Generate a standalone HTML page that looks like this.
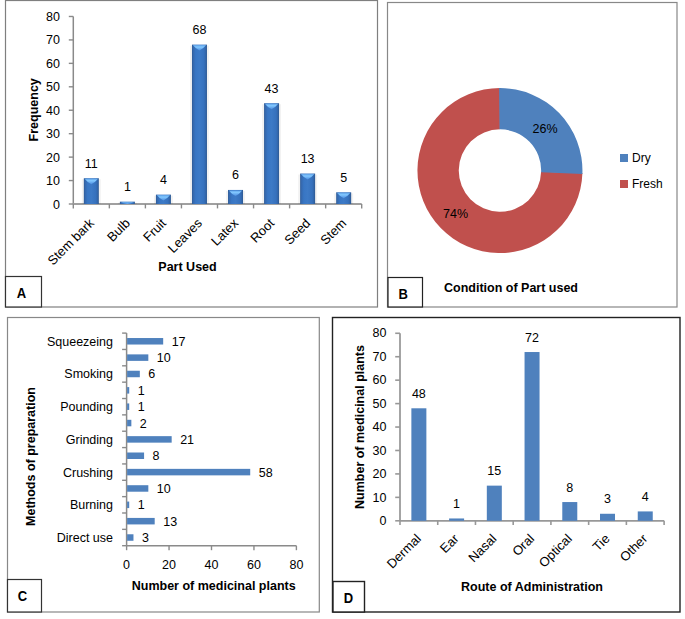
<!DOCTYPE html>
<html><head><meta charset="utf-8"><style>
html,body{margin:0;padding:0;background:#fff;}
body{width:685px;height:619px;overflow:hidden;}
svg{display:block;}
text{font-family:"Liberation Sans",sans-serif;fill:#000;}
</style></head><body>
<svg width="685" height="619" viewBox="0 0 685 619">
<defs>
<linearGradient id="barA" x1="0" y1="0" x2="1" y2="0">
<stop offset="0" stop-color="#2e5a94"/><stop offset="0.08" stop-color="#3568ad"/><stop offset="0.25" stop-color="#3876c4"/><stop offset="0.5" stop-color="#3d7ac6"/><stop offset="0.8" stop-color="#3671bd"/><stop offset="0.92" stop-color="#3265a8"/><stop offset="1" stop-color="#2d5890"/>
</linearGradient>
<linearGradient id="bevA" x1="0" y1="0" x2="0" y2="1">
<stop offset="0" stop-color="#5c9fe6"/><stop offset="0.35" stop-color="#82c8ff"/><stop offset="1" stop-color="#4e8ee0"/>
</linearGradient>
</defs>
<rect x="5.50" y="0.50" width="372.00" height="306.50" fill="none" stroke="#7f7f7f" stroke-width="1.2" />
<line x1="73.30" y1="16.47" x2="73.30" y2="204.00" stroke="#8a8a8a" stroke-width="1.5"/>
<line x1="68.80" y1="204.00" x2="73.30" y2="204.00" stroke="#8a8a8a" stroke-width="1.4"/>
<text x="60.00" y="208.50" font-size="12.5" text-anchor="end" >0</text>
<line x1="68.80" y1="180.56" x2="73.30" y2="180.56" stroke="#8a8a8a" stroke-width="1.4"/>
<text x="60.00" y="185.06" font-size="12.5" text-anchor="end" >10</text>
<line x1="68.80" y1="157.12" x2="73.30" y2="157.12" stroke="#8a8a8a" stroke-width="1.4"/>
<text x="60.00" y="161.62" font-size="12.5" text-anchor="end" >20</text>
<line x1="68.80" y1="133.68" x2="73.30" y2="133.68" stroke="#8a8a8a" stroke-width="1.4"/>
<text x="60.00" y="138.18" font-size="12.5" text-anchor="end" >30</text>
<line x1="68.80" y1="110.24" x2="73.30" y2="110.24" stroke="#8a8a8a" stroke-width="1.4"/>
<text x="60.00" y="114.74" font-size="12.5" text-anchor="end" >40</text>
<line x1="68.80" y1="86.80" x2="73.30" y2="86.80" stroke="#8a8a8a" stroke-width="1.4"/>
<text x="60.00" y="91.30" font-size="12.5" text-anchor="end" >50</text>
<line x1="68.80" y1="63.36" x2="73.30" y2="63.36" stroke="#8a8a8a" stroke-width="1.4"/>
<text x="60.00" y="67.86" font-size="12.5" text-anchor="end" >60</text>
<line x1="68.80" y1="39.92" x2="73.30" y2="39.92" stroke="#8a8a8a" stroke-width="1.4"/>
<text x="60.00" y="44.42" font-size="12.5" text-anchor="end" >70</text>
<line x1="68.80" y1="16.48" x2="73.30" y2="16.48" stroke="#8a8a8a" stroke-width="1.4"/>
<text x="60.00" y="20.98" font-size="12.5" text-anchor="end" >80</text>
<line x1="73.30" y1="204.00" x2="361.70" y2="204.00" stroke="#a0a0a0" stroke-width="1.8"/>
<line x1="73.30" y1="204.00" x2="73.30" y2="208.40" stroke="#8a8a8a" stroke-width="1.4"/>
<line x1="109.35" y1="204.00" x2="109.35" y2="208.40" stroke="#8a8a8a" stroke-width="1.4"/>
<line x1="145.40" y1="204.00" x2="145.40" y2="208.40" stroke="#8a8a8a" stroke-width="1.4"/>
<line x1="181.45" y1="204.00" x2="181.45" y2="208.40" stroke="#8a8a8a" stroke-width="1.4"/>
<line x1="217.50" y1="204.00" x2="217.50" y2="208.40" stroke="#8a8a8a" stroke-width="1.4"/>
<line x1="253.55" y1="204.00" x2="253.55" y2="208.40" stroke="#8a8a8a" stroke-width="1.4"/>
<line x1="289.60" y1="204.00" x2="289.60" y2="208.40" stroke="#8a8a8a" stroke-width="1.4"/>
<line x1="325.65" y1="204.00" x2="325.65" y2="208.40" stroke="#8a8a8a" stroke-width="1.4"/>
<line x1="361.70" y1="204.00" x2="361.70" y2="208.40" stroke="#8a8a8a" stroke-width="1.4"/>
<rect x="81.82" y="179.22" width="19" height="24.78" fill="#000" fill-opacity="0.05"/>
<rect x="83.82" y="178.22" width="15" height="25.78" fill="url(#barA)"/>
<path d="M84.62,178.72 L98.02,178.72 Q94.82,182.72 91.32,184.22 Q87.82,182.72 84.62,178.72 Z" fill="url(#bevA)"/>
<text x="91.32" y="167.72" font-size="12.5" text-anchor="middle" >11</text>
<text x="94.82" y="224.00" font-size="13" text-anchor="end" transform="rotate(-45 94.82 224)">Stem bark</text>
<rect x="117.88" y="202.66" width="19" height="1.34" fill="#000" fill-opacity="0.05"/>
<rect x="119.88" y="201.66" width="15" height="2.34" fill="url(#barA)"/>
<path d="M120.67,202.16 L134.07,202.16 Q130.88,203.41 127.38,204.00 Q123.88,203.41 120.67,202.16 Z" fill="url(#bevA)"/>
<text x="127.38" y="191.16" font-size="12.5" text-anchor="middle" >1</text>
<text x="130.88" y="224.00" font-size="13" text-anchor="end" transform="rotate(-45 130.88 224)">Bulb</text>
<rect x="153.93" y="195.62" width="19" height="8.38" fill="#000" fill-opacity="0.05"/>
<rect x="155.93" y="194.62" width="15" height="9.38" fill="url(#barA)"/>
<path d="M156.73,195.12 L170.12,195.12 Q166.93,199.12 163.43,200.62 Q159.93,199.12 156.73,195.12 Z" fill="url(#bevA)"/>
<text x="163.43" y="184.12" font-size="12.5" text-anchor="middle" >4</text>
<text x="166.93" y="224.00" font-size="13" text-anchor="end" transform="rotate(-45 166.93 224)">Fruit</text>
<rect x="189.97" y="45.61" width="19" height="158.39" fill="#000" fill-opacity="0.05"/>
<rect x="191.97" y="44.61" width="15" height="159.39" fill="url(#barA)"/>
<path d="M192.77,45.11 L206.17,45.11 Q202.97,49.11 199.47,50.61 Q195.97,49.11 192.77,45.11 Z" fill="url(#bevA)"/>
<text x="199.47" y="34.11" font-size="12.5" text-anchor="middle" >68</text>
<text x="202.97" y="224.00" font-size="13" text-anchor="end" transform="rotate(-45 202.97 224)">Leaves</text>
<rect x="226.02" y="190.94" width="19" height="13.06" fill="#000" fill-opacity="0.05"/>
<rect x="228.02" y="189.94" width="15" height="14.06" fill="url(#barA)"/>
<path d="M228.82,190.44 L242.22,190.44 Q239.02,194.44 235.52,195.94 Q232.02,194.44 228.82,190.44 Z" fill="url(#bevA)"/>
<text x="235.52" y="179.44" font-size="12.5" text-anchor="middle" >6</text>
<text x="239.02" y="224.00" font-size="13" text-anchor="end" transform="rotate(-45 239.02 224)">Latex</text>
<rect x="262.07" y="104.21" width="19" height="99.79" fill="#000" fill-opacity="0.05"/>
<rect x="264.07" y="103.21" width="15" height="100.79" fill="url(#barA)"/>
<path d="M264.88,103.71 L278.27,103.71 Q275.07,107.71 271.57,109.21 Q268.07,107.71 264.88,103.71 Z" fill="url(#bevA)"/>
<text x="271.57" y="92.71" font-size="12.5" text-anchor="middle" >43</text>
<text x="275.07" y="224.00" font-size="13" text-anchor="end" transform="rotate(-45 275.07 224)">Root</text>
<rect x="298.12" y="174.53" width="19" height="29.47" fill="#000" fill-opacity="0.05"/>
<rect x="300.12" y="173.53" width="15" height="30.47" fill="url(#barA)"/>
<path d="M300.93,174.03 L314.32,174.03 Q311.12,178.03 307.62,179.53 Q304.12,178.03 300.93,174.03 Z" fill="url(#bevA)"/>
<text x="307.62" y="163.03" font-size="12.5" text-anchor="middle" >13</text>
<text x="311.12" y="224.00" font-size="13" text-anchor="end" transform="rotate(-45 311.12 224)">Seed</text>
<rect x="334.18" y="193.28" width="19" height="10.72" fill="#000" fill-opacity="0.05"/>
<rect x="336.18" y="192.28" width="15" height="11.72" fill="url(#barA)"/>
<path d="M336.98,192.78 L350.38,192.78 Q347.18,196.78 343.68,198.28 Q340.18,196.78 336.98,192.78 Z" fill="url(#bevA)"/>
<text x="343.68" y="181.78" font-size="12.5" text-anchor="middle" >5</text>
<text x="347.18" y="224.00" font-size="13" text-anchor="end" transform="rotate(-45 347.18 224)">Stem</text>
<text x="187.50" y="270.70" font-size="12.5" text-anchor="middle" font-weight="bold" >Part Used</text>
<text x="38.50" y="109.80" font-size="12.5" text-anchor="middle" font-weight="bold" transform="rotate(-90 38.5 109.8)">Frequency</text>
<rect x="5.50" y="276.50" width="36.00" height="30.50" fill="#fff" stroke="#333" stroke-width="1.2" />
<text transform="translate(21.4 297.6) scale(0.86 1)" font-size="15.2" font-weight="bold" text-anchor="middle">A</text>
<rect x="387.50" y="2.50" width="289.50" height="304.50" fill="none" stroke="#888" stroke-width="1.2" />
<path d="M582.41,173.06 A82.5,82.5 0 1 1 499.95,88.05 L499.95,129.35 A41.2,41.2 0 1 0 541.13,171.80 Z" fill="#c0504d"/>
<path d="M499.09,88.05 A82.5,82.5 0 0 1 582.38,173.92 L541.12,172.23 A41.2,41.2 0 0 0 499.52,129.35 Z" fill="#4f81bd"/>
<text x="545.00" y="132.50" font-size="12.5" text-anchor="middle" >26%</text>
<text x="455.50" y="218.00" font-size="12.5" text-anchor="middle" >74%</text>
<rect x="620.00" y="154.00" width="8.00" height="8.00" fill="#4f81bd" stroke="none" stroke-width="1" />
<rect x="620.00" y="180.00" width="8.00" height="8.00" fill="#c0504d" stroke="none" stroke-width="1" />
<text x="632.00" y="161.60" font-size="12" text-anchor="start" >Dry</text>
<text x="632.00" y="187.60" font-size="12" text-anchor="start" >Fresh</text>
<text x="511.00" y="291.80" font-size="12.5" text-anchor="middle" font-weight="bold" >Condition of Part used</text>
<rect x="388.00" y="277.50" width="34.50" height="29.50" fill="#fff" stroke="#222" stroke-width="1.2" />
<text transform="translate(403.2 298.7) scale(0.85 1)" font-size="15.3" font-weight="bold" text-anchor="middle">B</text>
<rect x="7.50" y="317.50" width="311.80" height="294.50" fill="none" stroke="#888" stroke-width="1.2" />
<line x1="126.60" y1="333.10" x2="126.60" y2="545.70" stroke="#8a8a8a" stroke-width="1.5"/>
<line x1="122.10" y1="333.10" x2="126.60" y2="333.10" stroke="#8a8a8a" stroke-width="1.4"/>
<line x1="122.10" y1="349.45" x2="126.60" y2="349.45" stroke="#8a8a8a" stroke-width="1.4"/>
<line x1="122.10" y1="365.81" x2="126.60" y2="365.81" stroke="#8a8a8a" stroke-width="1.4"/>
<line x1="122.10" y1="382.16" x2="126.60" y2="382.16" stroke="#8a8a8a" stroke-width="1.4"/>
<line x1="122.10" y1="398.52" x2="126.60" y2="398.52" stroke="#8a8a8a" stroke-width="1.4"/>
<line x1="122.10" y1="414.87" x2="126.60" y2="414.87" stroke="#8a8a8a" stroke-width="1.4"/>
<line x1="122.10" y1="431.22" x2="126.60" y2="431.22" stroke="#8a8a8a" stroke-width="1.4"/>
<line x1="122.10" y1="447.58" x2="126.60" y2="447.58" stroke="#8a8a8a" stroke-width="1.4"/>
<line x1="122.10" y1="463.93" x2="126.60" y2="463.93" stroke="#8a8a8a" stroke-width="1.4"/>
<line x1="122.10" y1="480.29" x2="126.60" y2="480.29" stroke="#8a8a8a" stroke-width="1.4"/>
<line x1="122.10" y1="496.64" x2="126.60" y2="496.64" stroke="#8a8a8a" stroke-width="1.4"/>
<line x1="122.10" y1="512.99" x2="126.60" y2="512.99" stroke="#8a8a8a" stroke-width="1.4"/>
<line x1="122.10" y1="529.35" x2="126.60" y2="529.35" stroke="#8a8a8a" stroke-width="1.4"/>
<line x1="122.10" y1="545.70" x2="126.60" y2="545.70" stroke="#8a8a8a" stroke-width="1.4"/>
<line x1="126.60" y1="545.70" x2="296.40" y2="545.70" stroke="#8a8a8a" stroke-width="1.5"/>
<line x1="126.60" y1="545.70" x2="126.60" y2="550.20" stroke="#8a8a8a" stroke-width="1.4"/>
<text x="126.60" y="568.50" font-size="12.5" text-anchor="middle" >0</text>
<line x1="169.05" y1="545.70" x2="169.05" y2="550.20" stroke="#8a8a8a" stroke-width="1.4"/>
<text x="169.05" y="568.50" font-size="12.5" text-anchor="middle" >20</text>
<line x1="211.50" y1="545.70" x2="211.50" y2="550.20" stroke="#8a8a8a" stroke-width="1.4"/>
<text x="211.50" y="568.50" font-size="12.5" text-anchor="middle" >40</text>
<line x1="253.95" y1="545.70" x2="253.95" y2="550.20" stroke="#8a8a8a" stroke-width="1.4"/>
<text x="253.95" y="568.50" font-size="12.5" text-anchor="middle" >60</text>
<line x1="296.40" y1="545.70" x2="296.40" y2="550.20" stroke="#8a8a8a" stroke-width="1.4"/>
<text x="296.40" y="568.50" font-size="12.5" text-anchor="middle" >80</text>
<rect x="127.10" y="338.03" width="36.08" height="6.50" fill="#4f81bd" stroke="none" stroke-width="1" />
<text x="171.68" y="345.78" font-size="12.5" text-anchor="start" >17</text>
<text x="113.00" y="345.78" font-size="12.5" text-anchor="end" >Squeezeing</text>
<rect x="127.10" y="354.38" width="21.23" height="6.50" fill="#4f81bd" stroke="none" stroke-width="1" />
<text x="156.82" y="362.13" font-size="12.5" text-anchor="start" >10</text>
<rect x="127.10" y="370.74" width="12.73" height="6.50" fill="#4f81bd" stroke="none" stroke-width="1" />
<text x="148.33" y="378.49" font-size="12.5" text-anchor="start" >6</text>
<text x="113.00" y="378.49" font-size="12.5" text-anchor="end" >Smoking</text>
<rect x="127.10" y="387.09" width="2.12" height="6.50" fill="#4f81bd" stroke="none" stroke-width="1" />
<text x="137.72" y="394.84" font-size="12.5" text-anchor="start" >1</text>
<rect x="127.10" y="403.44" width="2.12" height="6.50" fill="#4f81bd" stroke="none" stroke-width="1" />
<text x="137.72" y="411.19" font-size="12.5" text-anchor="start" >1</text>
<text x="113.00" y="411.19" font-size="12.5" text-anchor="end" >Pounding</text>
<rect x="127.10" y="419.80" width="4.25" height="6.50" fill="#4f81bd" stroke="none" stroke-width="1" />
<text x="139.84" y="427.55" font-size="12.5" text-anchor="start" >2</text>
<rect x="127.10" y="436.15" width="44.57" height="6.50" fill="#4f81bd" stroke="none" stroke-width="1" />
<text x="180.17" y="443.90" font-size="12.5" text-anchor="start" >21</text>
<text x="113.00" y="443.90" font-size="12.5" text-anchor="end" >Grinding</text>
<rect x="127.10" y="452.50" width="16.98" height="6.50" fill="#4f81bd" stroke="none" stroke-width="1" />
<text x="152.58" y="460.25" font-size="12.5" text-anchor="start" >8</text>
<rect x="127.10" y="468.86" width="123.11" height="6.50" fill="#4f81bd" stroke="none" stroke-width="1" />
<text x="258.70" y="476.61" font-size="12.5" text-anchor="start" >58</text>
<text x="113.00" y="476.61" font-size="12.5" text-anchor="end" >Crushing</text>
<rect x="127.10" y="485.21" width="21.23" height="6.50" fill="#4f81bd" stroke="none" stroke-width="1" />
<text x="156.82" y="492.96" font-size="12.5" text-anchor="start" >10</text>
<rect x="127.10" y="501.57" width="2.12" height="6.50" fill="#4f81bd" stroke="none" stroke-width="1" />
<text x="137.72" y="509.32" font-size="12.5" text-anchor="start" >1</text>
<text x="113.00" y="509.32" font-size="12.5" text-anchor="end" >Burning</text>
<rect x="127.10" y="517.92" width="27.59" height="6.50" fill="#4f81bd" stroke="none" stroke-width="1" />
<text x="163.19" y="525.67" font-size="12.5" text-anchor="start" >13</text>
<rect x="127.10" y="534.27" width="6.37" height="6.50" fill="#4f81bd" stroke="none" stroke-width="1" />
<text x="141.97" y="542.02" font-size="12.5" text-anchor="start" >3</text>
<text x="113.00" y="542.02" font-size="12.5" text-anchor="end" >Direct use</text>
<text x="213.70" y="589.90" font-size="12.5" text-anchor="middle" font-weight="bold" >Number of medicinal plants</text>
<text x="34.50" y="456.50" font-size="12.5" text-anchor="middle" font-weight="bold" transform="rotate(-90 34.5 456.5)">Methods of preparation</text>
<rect x="7.50" y="579.50" width="34.00" height="32.50" fill="#fff" stroke="#333" stroke-width="1.2" />
<text transform="translate(22.4 600.9) scale(0.85 1)" font-size="15.3" font-weight="bold" text-anchor="middle">C</text>
<rect x="332.50" y="317.50" width="347.50" height="294.50" fill="none" stroke="#222" stroke-width="1.4" />
<line x1="400.00" y1="333.30" x2="400.00" y2="520.80" stroke="#a4a4a4" stroke-width="2"/>
<line x1="395.20" y1="520.80" x2="400.00" y2="520.80" stroke="#989898" stroke-width="1.6"/>
<text x="386.50" y="525.00" font-size="12.5" text-anchor="end" >0</text>
<line x1="395.20" y1="497.36" x2="400.00" y2="497.36" stroke="#989898" stroke-width="1.6"/>
<text x="386.50" y="501.56" font-size="12.5" text-anchor="end" >10</text>
<line x1="395.20" y1="473.92" x2="400.00" y2="473.92" stroke="#989898" stroke-width="1.6"/>
<text x="386.50" y="478.12" font-size="12.5" text-anchor="end" >20</text>
<line x1="395.20" y1="450.48" x2="400.00" y2="450.48" stroke="#989898" stroke-width="1.6"/>
<text x="386.50" y="454.68" font-size="12.5" text-anchor="end" >30</text>
<line x1="395.20" y1="427.04" x2="400.00" y2="427.04" stroke="#989898" stroke-width="1.6"/>
<text x="386.50" y="431.24" font-size="12.5" text-anchor="end" >40</text>
<line x1="395.20" y1="403.60" x2="400.00" y2="403.60" stroke="#989898" stroke-width="1.6"/>
<text x="386.50" y="407.80" font-size="12.5" text-anchor="end" >50</text>
<line x1="395.20" y1="380.16" x2="400.00" y2="380.16" stroke="#989898" stroke-width="1.6"/>
<text x="386.50" y="384.36" font-size="12.5" text-anchor="end" >60</text>
<line x1="395.20" y1="356.72" x2="400.00" y2="356.72" stroke="#989898" stroke-width="1.6"/>
<text x="386.50" y="360.92" font-size="12.5" text-anchor="end" >70</text>
<line x1="395.20" y1="333.28" x2="400.00" y2="333.28" stroke="#989898" stroke-width="1.6"/>
<text x="386.50" y="337.48" font-size="12.5" text-anchor="end" >80</text>
<line x1="400.00" y1="520.80" x2="664.11" y2="520.80" stroke="#989898" stroke-width="1.8"/>
<line x1="400.00" y1="520.80" x2="400.00" y2="525.00" stroke="#989898" stroke-width="1.6"/>
<line x1="437.73" y1="520.80" x2="437.73" y2="525.00" stroke="#989898" stroke-width="1.6"/>
<line x1="475.46" y1="520.80" x2="475.46" y2="525.00" stroke="#989898" stroke-width="1.6"/>
<line x1="513.19" y1="520.80" x2="513.19" y2="525.00" stroke="#989898" stroke-width="1.6"/>
<line x1="550.92" y1="520.80" x2="550.92" y2="525.00" stroke="#989898" stroke-width="1.6"/>
<line x1="588.65" y1="520.80" x2="588.65" y2="525.00" stroke="#989898" stroke-width="1.6"/>
<line x1="626.38" y1="520.80" x2="626.38" y2="525.00" stroke="#989898" stroke-width="1.6"/>
<line x1="664.11" y1="520.80" x2="664.11" y2="525.00" stroke="#989898" stroke-width="1.6"/>
<rect x="411.37" y="408.29" width="15.00" height="112.51" fill="#4f81bd" stroke="none" stroke-width="1" />
<text x="418.87" y="397.99" font-size="12.5" text-anchor="middle" >48</text>
<text x="421.87" y="539.50" font-size="13" text-anchor="end" transform="rotate(-45 421.87 539.5)">Dermal</text>
<rect x="449.10" y="518.46" width="15.00" height="2.34" fill="#4f81bd" stroke="none" stroke-width="1" />
<text x="456.60" y="508.16" font-size="12.5" text-anchor="middle" >1</text>
<text x="459.60" y="539.50" font-size="13" text-anchor="end" transform="rotate(-45 459.60 539.5)">Ear</text>
<rect x="486.82" y="485.64" width="15.00" height="35.16" fill="#4f81bd" stroke="none" stroke-width="1" />
<text x="494.32" y="475.34" font-size="12.5" text-anchor="middle" >15</text>
<text x="497.32" y="539.50" font-size="13" text-anchor="end" transform="rotate(-45 497.32 539.5)">Nasal</text>
<rect x="524.55" y="352.03" width="15.00" height="168.77" fill="#4f81bd" stroke="none" stroke-width="1" />
<text x="532.05" y="341.73" font-size="12.5" text-anchor="middle" >72</text>
<text x="535.05" y="539.50" font-size="13" text-anchor="end" transform="rotate(-45 535.05 539.5)">Oral</text>
<rect x="562.28" y="502.05" width="15.00" height="18.75" fill="#4f81bd" stroke="none" stroke-width="1" />
<text x="569.78" y="491.75" font-size="12.5" text-anchor="middle" >8</text>
<text x="572.78" y="539.50" font-size="13" text-anchor="end" transform="rotate(-45 572.78 539.5)">Optical</text>
<rect x="600.01" y="513.77" width="15.00" height="7.03" fill="#4f81bd" stroke="none" stroke-width="1" />
<text x="607.51" y="503.47" font-size="12.5" text-anchor="middle" >3</text>
<text x="610.51" y="539.50" font-size="13" text-anchor="end" transform="rotate(-45 610.51 539.5)">Tie</text>
<rect x="637.75" y="511.42" width="15.00" height="9.38" fill="#4f81bd" stroke="none" stroke-width="1" />
<text x="645.25" y="501.12" font-size="12.5" text-anchor="middle" >4</text>
<text x="648.25" y="539.50" font-size="13" text-anchor="end" transform="rotate(-45 648.25 539.5)">Other</text>
<text x="532.00" y="590.50" font-size="12.5" text-anchor="middle" font-weight="bold" >Route of Administration</text>
<text x="363.50" y="427.00" font-size="12.5" text-anchor="middle" font-weight="bold" transform="rotate(-90 363.5 427)">Number of medicinal plants</text>
<rect x="333.00" y="581.50" width="31.50" height="30.50" fill="#fff" stroke="#222" stroke-width="1.4" />
<text transform="translate(348.4 602.9) scale(0.85 1)" font-size="15.3" font-weight="bold" text-anchor="middle">D</text>
</svg>
</body></html>
